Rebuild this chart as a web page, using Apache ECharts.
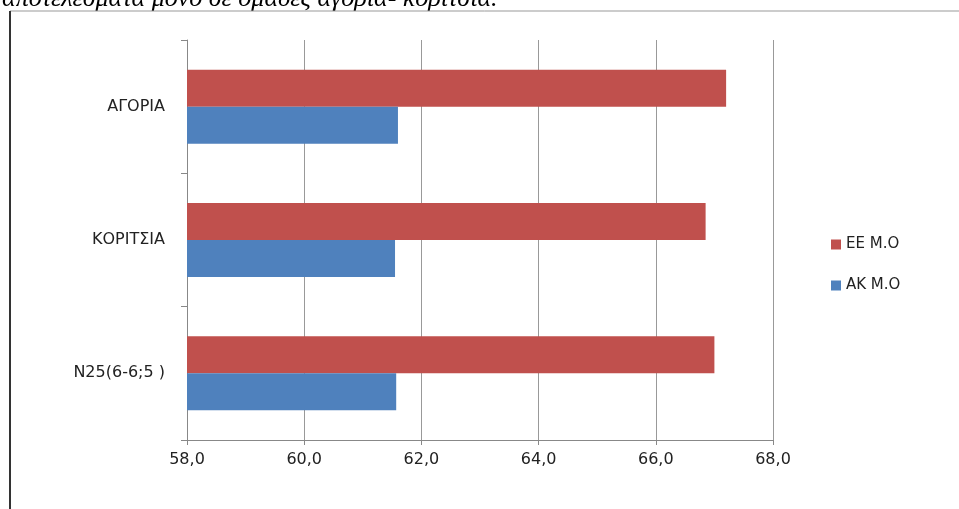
<!DOCTYPE html>
<html><head><meta charset="utf-8">
<script src="https://cdn.jsdelivr.net/npm/echarts@6/dist/echarts.min.js"></script>
<style>body{margin:0;background:#fff}#c{width:959px;height:509px}</style>
</head><body><div id="c"></div>
<script>
// κατηγορίες (από κάτω προς τα πάνω)
var categories = ['N25(6-6;5 )', 'ΚΟΡΙΤΣΙΑ', 'ΑΓΟΡΙΑ'];
var akValues = [61.57, 61.55, 61.6];
var eeValues = [67.0, 66.85, 67.2];
var xTicks = [58, 60, 62, 64, 66, 68];

var chart = echarts.init(document.getElementById('c'));
chart.setOption({
    animation: false,
    textStyle: {fontFamily: 'DejaVu Sans'},
    graphic: [
        {type: 'text', left: 2, top: -14, style: {text: 'αποτελέσματα μόνο σε ομάδες αγόρια- κορίτσια.', fontSize: 26, fontStyle: 'italic', fontFamily: 'Liberation Serif', fill: '#000'}},
        {type: 'line', shape: {x1: 10, y1: 11, x2: 959, y2: 11}, style: {stroke: '#999', lineWidth: 1}},
        {type: 'line', shape: {x1: 10, y1: 11, x2: 10, y2: 509}, style: {stroke: '#333', lineWidth: 2}}
    ],
    grid: {left: 187, top: 40, width: 586, height: 400},
    legend: {
        data: ['ΕΕ Μ.Ο', 'ΑΚ Μ.Ο'], orient: 'vertical', left: 826, top: 232,
        itemWidth: 10, itemHeight: 10, itemGap: 26, icon: 'rect',
        textStyle: {fontSize: 15, color: '#222'}
    },
    xAxis: {
        type: 'value', min: 58, max: 68, interval: 2,
        axisLine: {show: true, lineStyle: {color: '#888'}},
        axisTick: {show: true, length: 5, lineStyle: {color: '#888'}},
        splitLine: {lineStyle: {color: '#999'}},
        axisLabel: {fontSize: 16, color: '#222', margin: 12,
            formatter: function (v) { return v.toFixed(1).replace('.', ','); }}
    },
    yAxis: {
        type: 'category', data: categories,
        axisLine: {lineStyle: {color: '#888'}},
        axisTick: {show: true, length: 6, lineStyle: {color: '#888'}},
        axisLabel: {fontSize: 16, color: '#222', margin: 22}
    },
    series: [
        {name: 'ΕΕ Μ.Ο', type: 'bar', data: eeValues, barWidth: 37, barGap: '0%', barCategoryGap: '44%', itemStyle: {color: '#c0504d'}},
        {name: 'ΑΚ Μ.Ο', type: 'bar', data: akValues, barWidth: 37, itemStyle: {color: '#4f81bd'}}
    ]
});
</script></body></html>
